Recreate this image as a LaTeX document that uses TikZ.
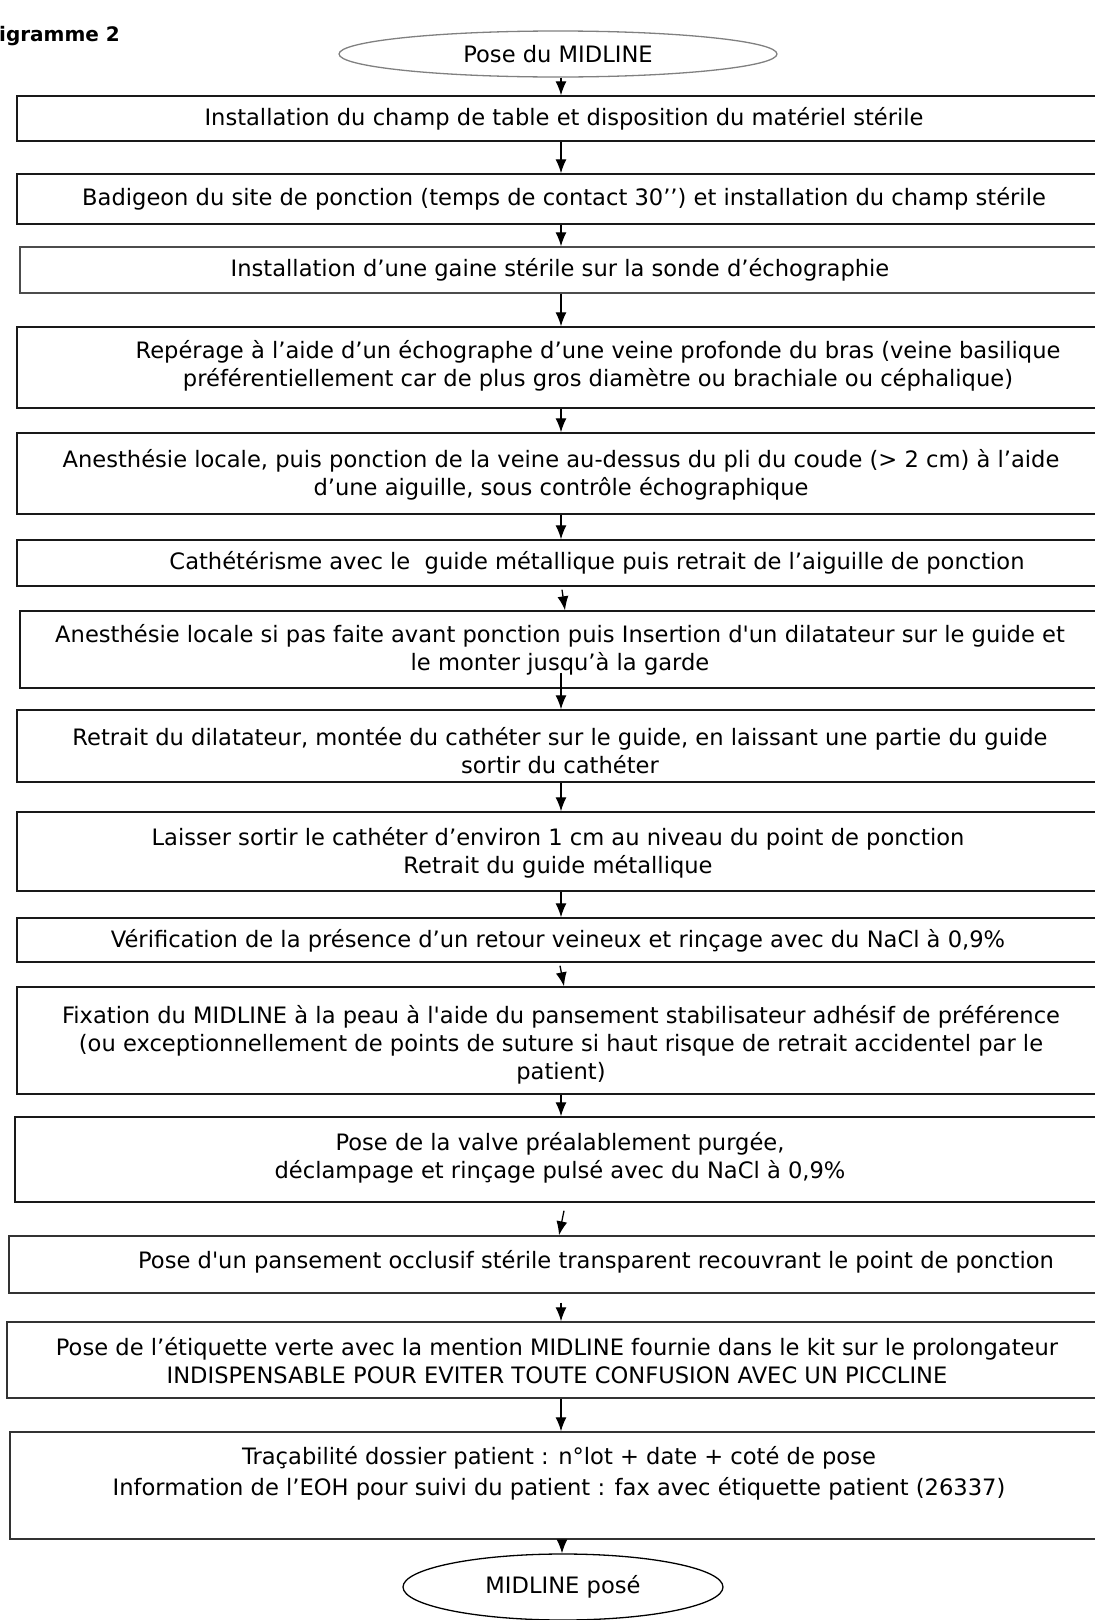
\documentclass[tikz,border=0pt]{standalone}
\usepackage{fontspec}
\setmainfont{DejaVu Sans}[Ligatures=TeXOff]
\usetikzlibrary{arrows.meta,shapes.geometric,calc}
\newcommand\stepfont{\fontsize{22.6}{28}\selectfont}
\begin{document}
\begin{tikzpicture}[x=1pt,y=-1pt,
  box/.style={draw=black!90, line width=1.4pt, rectangle, inner sep=0pt},
  txt/.style={font=\stepfont, align=center, inner sep=0pt},
  arr/.style={-{Latex[length=14pt,width=11pt]}, line width=1.3pt},
  oval/.style={ellipse, line width=1.3pt, inner sep=0pt, font=\stepfont},
]
\useasboundingbox (0,0) rectangle (1095,1620);
\clip (0,0) rectangle (1095,1620);
\coordinate (ax) at (561,0);

\node[font=\bfseries\fontsize{20}{24}\selectfont, anchor=west, inner sep=0pt] (title) at (-1,36) {igramme 2};

\node[oval, draw=black!50, minimum width=438, minimum height=46] (e1) at (558,54) {Pose du MIDLINE};

\node[box, minimum width=1094, minimum height=45] (b1) at (564,118.5) {};
\node[txt] (t1) at (564,118.5) {Installation du champ de table et disposition du matériel stérile};

\node[box, minimum width=1094, minimum height=50] (b2) at (564,199) {};
\node[txt] (t2) at (564,199) {Badigeon du site de ponction (temps de contact 30’’) et installation du champ stérile};

\node[box, draw=black!70, minimum width=1091, minimum height=46] (b3) at (565.5,270) {};
\node[txt] (t3) at (560,270) {Installation d’une gaine stérile sur la sonde d’échographie};

\node[box, minimum width=1094, minimum height=81] (b4) at (564,367.5) {};
\node[txt] (t4) at (598,366) {Repérage à l’aide d’un échographe d’une veine profonde du bras (veine basilique\\préférentiellement car de plus gros diamètre ou brachiale ou céphalique)};

\node[box, minimum width=1094, minimum height=81] (b5) at (564,473.5) {};
\node[txt] (t5) at (561,475) {Anesthésie locale, puis ponction de la veine au-dessus du pli du coude (> 2 cm) à l’aide\\d’une aiguille, sous contrôle échographique};

\node[box, minimum width=1094, minimum height=46] (b6) at (564,563) {};
\node[txt] (t6) at (597,563) {Cathétérisme avec le\ \ guide métallique puis retrait de l’aiguille de ponction};

\node[box, minimum width=1091, minimum height=77] (b7) at (565.5,649.5) {};
\node[txt] (t7) at (560,650) {Anesthésie locale si pas faite avant ponction puis Insertion d'un dilatateur sur le guide et\\le monter jusqu’à la garde};

\node[box, minimum width=1094, minimum height=72] (b8) at (564,746) {};
\node[txt] (t8) at (560,751) {Retrait du dilatateur, montée du cathéter sur le guide, en laissant une partie du guide\\sortir du cathéter};

\node[box, minimum width=1094, minimum height=79] (b9) at (564,851.5) {};
\node[txt] (t9) at (558,853) {Laisser sortir le cathéter d’environ 1 cm au niveau du point de ponction\\Retrait du guide métallique};

\node[box, minimum width=1094, minimum height=44] (b10) at (564,940) {};
\node[txt] (t10) at (558,941) {Vérification de la présence d’un retour veineux et rinçage avec du NaCl à 0,9\%};

\node[box, minimum width=1094, minimum height=107] (b11) at (564,1040.5) {};
\node[txt] (t11) at (561,1045) {Fixation du MIDLINE à la peau à l'aide du pansement stabilisateur adhésif de préférence\\(ou exceptionnellement de points de suture si haut risque de retrait accidentel par le\\patient)};

\node[box, minimum width=1096, minimum height=85] (b12) at (563,1159.5) {};
\node[txt] (t12) at (560,1158) {Pose de la valve préalablement purgée,\\déclampage et rinçage pulsé avec du NaCl à 0,9\%};

\node[box, draw=black!80, minimum width=1102, minimum height=57] (b13) at (560,1264.5) {};
\node[txt] (t13) at (596,1262) {Pose d'un pansement occlusif stérile transparent recouvrant le point de ponction};

\node[box, draw=black!80, minimum width=1104, minimum height=76] (b14) at (559,1360) {};
\node[txt] (t14) at (557,1361) {Pose de l’étiquette verte avec la mention MIDLINE fournie dans le kit sur le prolongateur\\INDISPENSABLE POUR EVITER TOUTE CONFUSION AVEC UN PICCLINE};

\node[box, draw=black!80, minimum width=1101, minimum height=107] (b15) at (560.5,1485.5) {};
\node[txt] (t15) at (559,1473) {Traçabilité dossier patient : n°lot + date + coté de pose\\[3pt]Information de l’EOH pour suivi du patient : fax avec étiquette patient (26337)};

\node[oval, draw=black, minimum width=320, minimum height=66] (e2) at (563,1587) {MIDLINE posé};

\draw[arr] (e1.south -| ax) -- (b1.north -| ax);
\draw[arr] (b1.south -| ax) -- (b2.north -| ax);
\draw[arr] (b2.south -| ax) -- (b3.north -| ax);
\draw[arr] (b3.south -| ax) -- (b4.north -| ax);
\draw[arr] (b4.south -| ax) -- (b5.north -| ax);
\draw[arr] (b5.south -| ax) -- (b6.north -| ax);
\draw[arr] ($(b6.south -| ax)+(1,3)$) -- ($(b7.north -| ax)+(4,0)$);
\draw[arr] ($(b7.south -| ax)+(0,-16)$) -- (b8.north -| ax);
\draw[arr] (b8.south -| ax) -- (b9.north -| ax);
\draw[arr] (b9.south -| ax) -- (b10.north -| ax);
\draw[arr] ($(b10.south -| ax)+(-1,3)$) -- ($(b11.north -| ax)+(3,0)$);
\draw[arr] (b11.south -| ax) -- (b12.north -| ax);
\draw[arr] ($(b12.south -| ax)+(3,8)$) -- ($(b13.north -| ax)+(-2,0)$);
\draw[arr] ($(b13.south -| ax)+(0,9)$) -- (b14.north -| ax);
\draw[arr] (b14.south -| ax) -- (b15.north -| ax);
\draw[arr] ($(b15.south -| ax)+(1,0)$) -- ($(e2.north -| ax)+(1,0)$);
\end{tikzpicture}
\end{document}
